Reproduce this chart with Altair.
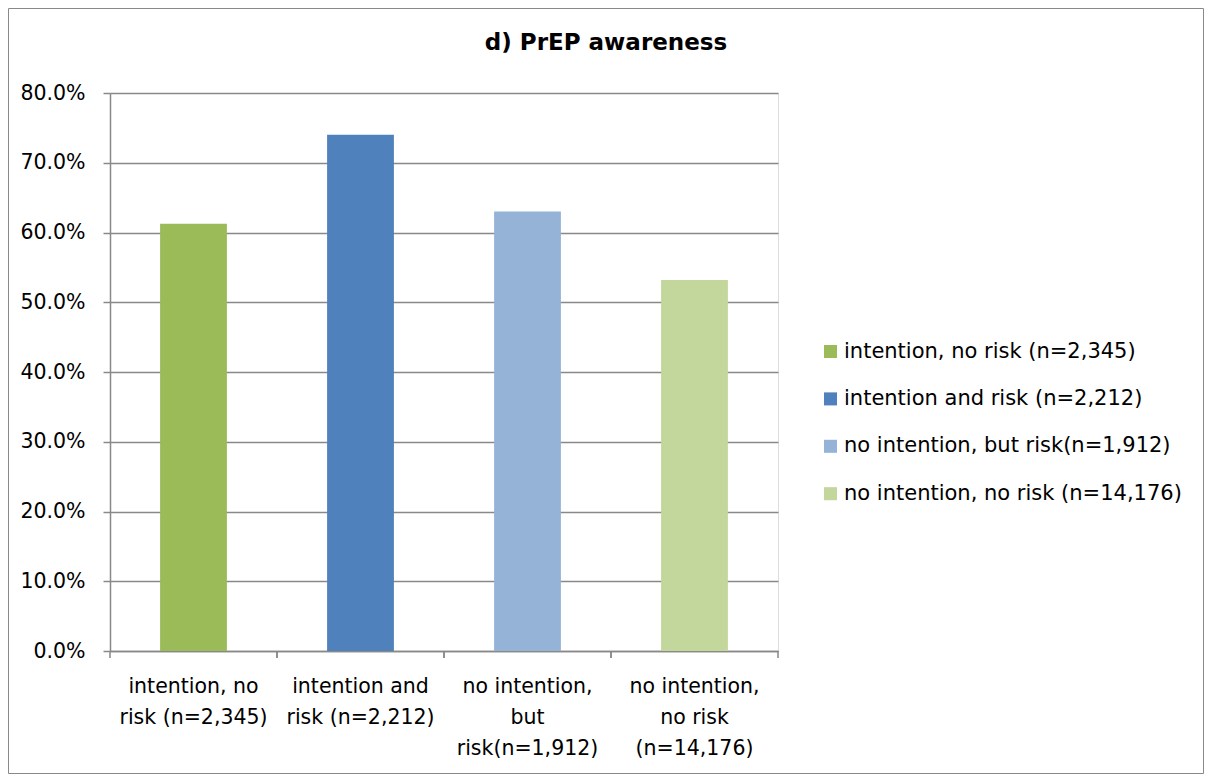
import altair as alt
import pandas as pd

categories = [
    "intention, no risk (n=2,345)",
    "intention and risk (n=2,212)",
    "no intention, but risk(n=1,912)",
    "no intention, no risk (n=14,176)",
]
axis_labels = [
    "intention, no|risk (n=2,345)",
    "intention and|risk (n=2,212)",
    "no intention,|but|risk(n=1,912)",
    "no intention,|no risk|(n=14,176)",
]
values = [0.6125, 0.740, 0.630, 0.532]
colors = ["#9BBB59", "#4F81BD", "#95B3D7", "#C3D69B"]
y_ticks = [0.0, 0.1, 0.2, 0.3, 0.4, 0.5, 0.6, 0.7, 0.8]
title_text = ["d) PrEP awareness"]

FONT = "DejaVu Sans"
GRAY = "#898989"
FS = 20.5

df = pd.DataFrame({"cat": categories, "lab": axis_labels, "val": values})

W, H = 668, 558
PAD = {"left": 102, "top": 85, "right": 426, "bottom": 123}

bars = alt.Chart(df).mark_bar(width=alt.RelativeBandSize(0.4)).encode(
    x=alt.X(
        "lab:N", sort=axis_labels,
        scale=alt.Scale(paddingInner=0, paddingOuter=0),
        axis=alt.Axis(
            title=None, labelExpr="split(datum.label, '|')", labelAngle=0,
            ticks=False, grid=False, labelPadding=25, labelLineHeight=31,
            labelFontSize=FS, labelFont=FONT, labelColor="#000000",
            domainColor=GRAY, domainWidth=1.5, labelBaseline="top",
        ),
    ),
    y=alt.Y(
        "val:Q",
        scale=alt.Scale(domain=[0, 0.8], nice=False),
        axis=alt.Axis(
            title=None, values=y_ticks, format=".1%", tickSize=7, tickColor=GRAY,
            tickWidth=1.5, labelPadding=18, labelFontSize=FS, labelFont=FONT,
            labelColor="#000000", gridColor=GRAY, gridWidth=1.5,
            domainColor=GRAY, domainWidth=1.5,
        ),
    ),
    color=alt.Color(
        "cat:N", sort=categories,
        scale=alt.Scale(domain=categories, range=colors),
        legend=alt.Legend(
            title=None, orient="none", legendX=710, legendY=248,
            symbolType="square", symbolSize=170, symbolStrokeWidth=0,
            labelFontSize=21, labelFont=FONT, labelColor="#000000",
            rowPadding=25.4, labelOffset=3, labelLimit=400, padding=0,
        ),
    ),
)

ticks_start = alt.Chart(df).mark_rule(color=GRAY, strokeWidth=1.5).encode(
    x=alt.X("lab:N", sort=axis_labels, bandPosition=0),
    y=alt.value(H), y2=alt.value(H + 7),
)
ticks_end = alt.Chart(df).mark_rule(color=GRAY, strokeWidth=1.5).encode(
    x=alt.X("lab:N", sort=axis_labels, bandPosition=1),
    y=alt.value(H), y2=alt.value(H + 7),
)

frame = alt.Chart(pd.DataFrame({"k": [0]})).mark_rect(
    fillOpacity=0, stroke=GRAY, strokeWidth=1
).encode(
    x=alt.value(-PAD["left"] + 0.5), x2=alt.value(W + PAD["right"] - 0.5),
    y=alt.value(-PAD["top"] + 0.5), y2=alt.value(H + PAD["bottom"] - 0.5),
)

title = alt.Chart(pd.DataFrame({"t": title_text})).mark_text(
    font=FONT, fontSize=23, fontWeight="bold", color="#000000",
    align="center", baseline="middle",
).encode(text="t:N", x=alt.value(496), y=alt.value(-50))

chart = alt.layer(frame, bars, ticks_start, ticks_end, title).properties(
    width=W, height=H,
    autosize=alt.AutoSizeParams(type="none"),
    padding=PAD,
).configure_view(stroke=None).configure(background="white")

chart.save("out.html", embed_options={"renderer": "svg", "actions": False})
